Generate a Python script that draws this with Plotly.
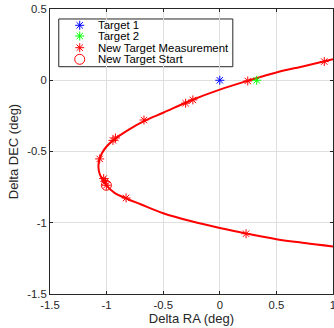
import plotly.graph_objects as go

# ---- data ----
curve_x = [1.00, 0.75, 0.50, 0.25, 0.00, -0.25, -0.50, -0.67, -0.80, -0.94, -1.00, -1.04,
           -1.065, -1.072, -1.06, -1.035, -1.00, -0.93, -0.825, -0.70, -0.50, -0.25,
           0.00, 0.25, 0.50, 0.75, 1.00]
curve_y = [0.147, 0.100, 0.055, -0.003, -0.066, -0.140, -0.228, -0.287, -0.345, -0.420,
           -0.465, -0.510, -0.560, -0.610, -0.660, -0.700, -0.740, -0.790, -0.830, -0.870,
           -0.933, -0.990, -1.037, -1.078, -1.115, -1.142, -1.166]

meas_x = [0.923, 0.247, -0.238, -0.302, -0.670, -0.922, -0.944, -1.061, -1.026, -1.010,
          -1.002, -0.828, 0.232]
meas_y = [0.131, -0.005, -0.138, -0.161, -0.279, -0.405, -0.422, -0.552, -0.690, -0.712,
          -0.737, -0.826, -1.077]

start_x = [-1.002]
start_y = [-0.737]

target1_x = [0.0]
target1_y = [0.0]
target2_x = [0.326]
target2_y = [0.0]

x_ticks = [-1.5, -1, -0.5, 0, 0.5, 1]
x_ticktext = ["-1.5", "-1", "-0.5", "0", "0.5", "1"]
y_ticks = [-1.5, -1, -0.5, 0, 0.5]
y_ticktext = ["-1.5", "-1", "-0.5", "0", "0.5"]

legend_names = ["Target 1", "Target 2", "New Target Measurement", "New Target Start"]
legend_colors = ["#0000ff", "#00ff00", "#ff0000", "#ff0000"]
legend_symbols = ["asterisk-open", "asterisk-open", "asterisk-open", "circle-open"]

FONT = "Liberation Sans, Arial, Helvetica, sans-serif"
AX = "#262626"

fig = go.Figure()

fig.add_trace(go.Scatter(x=curve_x, y=curve_y, mode="lines",
                         line=dict(color="#ff0000", width=2, shape="spline"),
                         showlegend=False, hoverinfo="skip"))
fig.add_trace(go.Scatter(x=meas_x, y=meas_y, mode="markers", name=legend_names[2],
                         marker=dict(symbol="asterisk-open", size=7.5, color="#ff0000",
                                     line=dict(color="#ff0000", width=1)),
                         showlegend=False))
fig.add_trace(go.Scatter(x=start_x, y=start_y, mode="markers", name=legend_names[3],
                         marker=dict(symbol="circle-open", size=10, color="#ff0000",
                                     line=dict(color="#ff0000", width=1)),
                         showlegend=False))
fig.add_trace(go.Scatter(x=target1_x, y=target1_y, mode="markers", name=legend_names[0],
                         marker=dict(symbol="asterisk-open", size=7.5, color="#0000ff",
                                     line=dict(color="#0000ff", width=1)),
                         showlegend=False))
fig.add_trace(go.Scatter(x=target2_x, y=target2_y, mode="markers", name=legend_names[1],
                         marker=dict(symbol="asterisk-open", size=7.5, color="#00ff00",
                                     line=dict(color="#00ff00", width=1)),
                         showlegend=False))

# ---- custom compact legend (MATLAB style) ----
leg_x0, leg_x1, leg_y0, leg_y1 = 0.031, 0.646, 0.7975, 0.965
row_y = [0.9428, 0.9053, 0.8642, 0.8235]
sym_x = 0.105
txt_x = 0.163

fig.add_shape(type="rect", xref="paper", yref="paper", x0=leg_x0, x1=leg_x1,
              y0=leg_y0, y1=leg_y1, line=dict(color=AX, width=1), fillcolor="white",
              layer="between")
for name, col, sym, ry in zip(legend_names, legend_colors, legend_symbols, row_y):
    fig.add_trace(go.Scatter(x=[sym_x], y=[ry], xaxis="x2", yaxis="y2", mode="markers",
                             marker=dict(symbol=sym, size=10 if sym == "circle-open" else 7.5,
                                         color=col, line=dict(color=col, width=1)),
                             showlegend=False, hoverinfo="skip"))
    fig.add_annotation(x=txt_x, y=ry, xref="paper", yref="paper", text=name,
                       showarrow=False, xanchor="left", yanchor="middle",
                       font=dict(family=FONT, size=11.4, color="black"))

axis_common = dict(showgrid=True, gridcolor="#dfdfdf", gridwidth=1, zeroline=False,
                   showline=True, linecolor=AX, linewidth=1, mirror="ticks",
                   ticks="inside", ticklen=3, tickcolor=AX, automargin=False,
                   ticklabeloverflow="allow",
                   tickfont=dict(family=FONT, size=11.3, color=AX))

fig.update_layout(
    width=334, height=328,
    margin=dict(l=50, r=1, t=9, b=34, autoexpand=False),
    paper_bgcolor="white", plot_bgcolor="white",
    showlegend=False,
    xaxis=dict(range=[-1.5, 1], tickvals=x_ticks, ticktext=x_ticktext,
               title=dict(text="Delta RA (deg)", font=dict(family=FONT, size=13, color=AX),
                          standoff=2),
               **axis_common),
    yaxis=dict(range=[-1.5, 0.5], tickvals=y_ticks, ticktext=y_ticktext,
               title=dict(text="Delta DEC (deg)", font=dict(family=FONT, size=13, color=AX),
                          standoff=5),
               **axis_common),
    xaxis2=dict(range=[0, 1], overlaying="x", visible=False, fixedrange=True),
    yaxis2=dict(range=[0, 1], overlaying="y", visible=False, fixedrange=True),
)

fig.write_html("out.html", config={"displayModeBar": False},
               post_script="document.body.style.margin='0px';document.body.style.overflow='hidden';")
